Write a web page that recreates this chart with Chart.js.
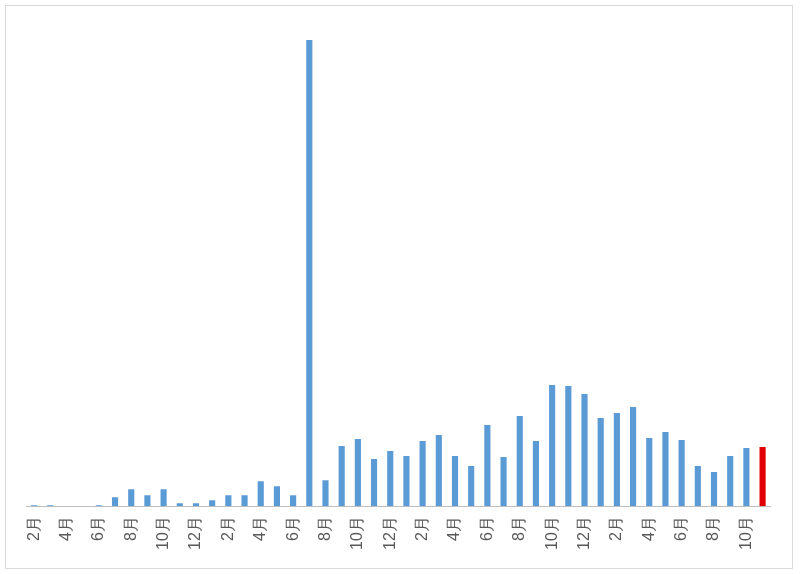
<!DOCTYPE html>
<html><head><meta charset="utf-8">
<script src="https://cdn.jsdelivr.net/npm/chart.js@4/dist/chart.umd.min.js"></script>
<style>html,body{margin:0;background:#fff}#w{position:absolute;left:5px;top:5px;width:788px;height:564px;border:1px solid #d9d9d9;box-sizing:border-box}</style>
</head><body><div id="w"><canvas id="c"></canvas></div>
<script>
const months=['2月','3月','4月','5月','6月','7月','8月','9月','10月','11月','12月','1月'];
const categories=[];for(let i=0;i<46;i++)categories.push(months[i%12]);
const values=[1,1,0,0,1,9,17,11,17,3,3,6,11,11,25,20,11,465,26,60,67,47,55,50,65,71,50,40,81,49,90,65,121,120,112,88,93,99,68,74,66,40,34,50,58,59];
const colors=values.map((v,i)=>i===values.length-1?'#e00000':'#5b9bd5');
new Chart(document.getElementById('c'),{type:'bar',
data:{labels:categories,datasets:[{data:values,backgroundColor:colors,categoryPercentage:1,barPercentage:0.38}]},
options:{responsive:true,maintainAspectRatio:false,animation:false,
layout:{padding:{left:20,right:20,top:34,bottom:8}},
plugins:{legend:{display:false},tooltip:{enabled:false}},
scales:{y:{display:false,min:0,max:465},
x:{grid:{display:false,drawTicks:false},border:{color:'#bfbfbf'},
ticks:{autoSkip:false,maxRotation:90,minRotation:90,color:'#595959',font:{family:'Liberation Sans',size:16},padding:10,
callback:(v,i)=>i%2===0?categories[i]:''}}}}});
</script></body></html>
